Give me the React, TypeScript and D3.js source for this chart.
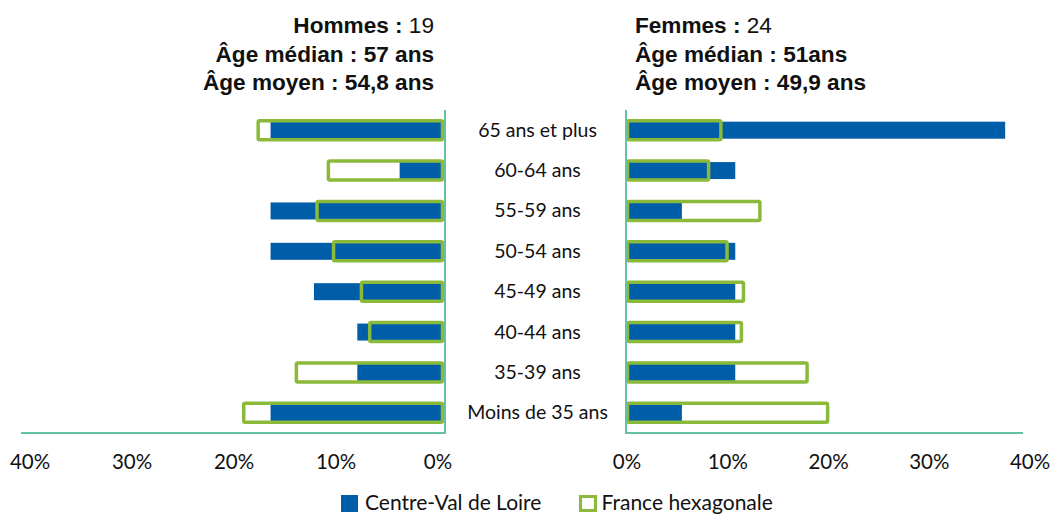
import React from 'react';
import * as d3 from 'd3';

// age groups, top to bottom
const categories = ['65 ans et plus', '60-64 ans', '55-59 ans', '50-54 ans', '45-49 ans', '40-44 ans', '35-39 ans', 'Moins de 35 ans'];

// Hommes (left panel)
const hommesRegion = [0.167, 0.042, 0.167, 0.167, 0.125, 0.083, 0.083, 0.167];
const hommesFrance = [0.179, 0.111, 0.122, 0.106, 0.079, 0.071, 0.142, 0.193];

// Femmes (right panel)
const femmesRegion = [0.368, 0.105, 0.053, 0.105, 0.105, 0.105, 0.105, 0.053];
const femmesFrance = [0.091, 0.079, 0.129, 0.097, 0.113, 0.111, 0.175, 0.195];

const ticks = [0, 0.1, 0.2, 0.3, 0.4];
const legendLabels = ['Centre-Val de Loire', 'France hexagonale'];

const BLUE = '#005DA8';
const GREEN = '#8BBA3A';
const AXIS = '#63C2A3';
const W = 1061;
const H = 514;

export default function App() {
  const y = d3.scaleBand().domain(categories).range([110, 433]);
  const xLeft = d3.scaleLinear().domain([0, 0.4]).range([443, 30]);
  const xRight = d3.scaleLinear().domain([0, 0.4]).range([627.5, 1038]);
  // tick labels sit slightly inward, as in the original
  const tLeft = d3.scaleLinear().domain([0, 0.4]).range([438, 30]);
  const tRight = d3.scaleLinear().domain([0, 0.4]).range([627, 1030]);
  const fmt = d3.format('.0%');

  const blueH = 17;
  const greenH = 19;
  const catFont = 'Lato, "Open Sans", sans-serif';
  const titleFont = '"Liberation Sans", Arial, Helvetica, sans-serif';

  return (
    <svg width={W} height={H} style={{ position: 'absolute', left: 0, top: 0, background: '#fff' }}>
      {/* titles */}
      <g fontFamily={titleFont} fontSize={22.6} fill="#111" fontWeight="bold">
        <text x={434} y={33} textAnchor="end">Hommes : <tspan fontWeight="normal">19</tspan></text>
        <text x={434} y={62} textAnchor="end">Âge médian : 57 ans</text>
        <text x={434} y={90} textAnchor="end">Âge moyen : 54,8 ans</text>
        <text x={635} y={33}>Femmes : <tspan fontWeight="normal">24</tspan></text>
        <text x={635} y={62}>Âge médian : 51ans</text>
        <text x={635} y={90}>Âge moyen : 49,9 ans</text>
      </g>

      {/* left bars */}
      {categories.map((c, i) => {
        const cy = y(c)! + y.bandwidth() / 2;
        return (
          <rect key={'l' + c} x={xLeft(hommesRegion[i])} y={cy - blueH / 2} width={xLeft(0) - xLeft(hommesRegion[i])} height={blueH} fill={BLUE} />
        );
      })}
      {categories.map((c, i) => {
        const cy = y(c)! + y.bandwidth() / 2;
        return (
          <rect key={'lg' + c} x={xLeft(hommesFrance[i])} y={cy - greenH / 2} width={xLeft(0) - 0.5 - xLeft(hommesFrance[i])} height={greenH}
            fill="none" stroke={GREEN} strokeWidth={3.5} rx={1.5} />
        );
      })}

      {/* right bars */}
      {categories.map((c, i) => {
        const cy = y(c)! + y.bandwidth() / 2;
        return (
          <rect key={'r' + c} x={xRight(0) + 1} y={cy - blueH / 2} width={xRight(femmesRegion[i]) - xRight(0) - 1} height={blueH} fill={BLUE} />
        );
      })}
      {categories.map((c, i) => {
        const cy = y(c)! + y.bandwidth() / 2;
        return (
          <rect key={'rg' + c} x={xRight(0)} y={cy - greenH / 2} width={xRight(femmesFrance[i]) - xRight(0)} height={greenH}
            fill="none" stroke={GREEN} strokeWidth={3.5} rx={1.5} />
        );
      })}

      {/* axis lines */}
      <g stroke={AXIS} strokeWidth={2} fill="none">
        <path d={`M445,110V433H21`} />
        <path d={`M626,110V433H1023`} />
      </g>

      {/* category labels */}
      <g fontFamily={catFont} fontSize={19.5} fill="#111" textAnchor="middle">
        {categories.map(c => (
          <text key={'t' + c} x={537.5} y={y(c)! + y.bandwidth() / 2 + 6.5}>{c}</text>
        ))}
      </g>

      {/* tick labels */}
      <g fontFamily={catFont} fontSize={20.5} fill="#111" textAnchor="middle">
        {ticks.map(t => (
          <text key={'tl' + t} x={tLeft(t)} y={469}>{fmt(t)}</text>
        ))}
        {ticks.map(t => (
          <text key={'tr' + t} x={tRight(t)} y={469}>{fmt(t)}</text>
        ))}
      </g>

      {/* legend */}
      <g fontFamily={catFont} fontSize={21} fill="#111">
        <rect x={341} y={495} width={17} height={17} fill={BLUE} />
        <text x={365} y={509.5}>{legendLabels[0]}</text>
        <rect x={580.5} y={496.5} width={15} height={14} fill="#fff" stroke={GREEN} strokeWidth={3} />
        <text x={601.5} y={509.5}>{legendLabels[1]}</text>
      </g>
    </svg>
  );
}
